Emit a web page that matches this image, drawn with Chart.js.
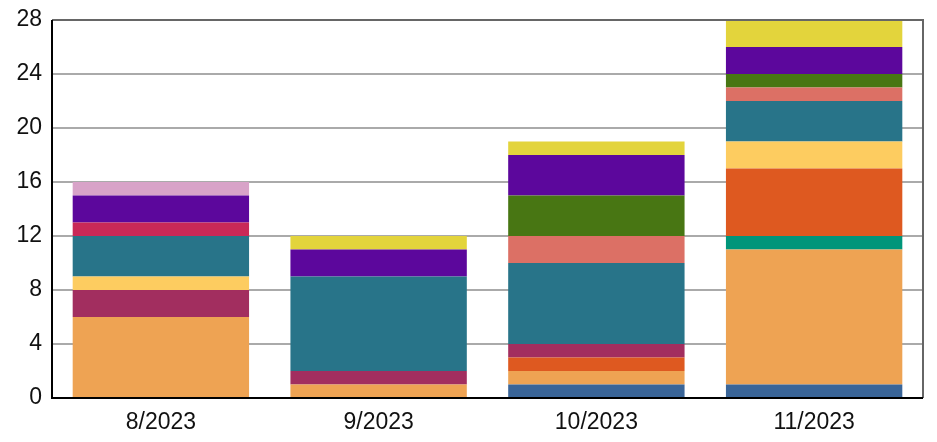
<!DOCTYPE html>
<html>
<head>
<meta charset="utf-8">
<script src="https://cdn.jsdelivr.net/npm/chart.js@4/dist/chart.umd.min.js"></script>
<style>
html,body{margin:0;padding:0;background:#fff;}
#wrap{width:937px;height:442px;position:relative;}
</style>
</head>
<body>
<div id="wrap"><canvas id="c"></canvas></div>
<script>
const categories = ["8/2023", "9/2023", "10/2023", "11/2023"];
const yTicks = [0, 4, 8, 12, 16, 20, 24, 28];

const s01 = [0, 0, 1, 1];
const s02 = [6, 1, 1, 10];
const s03 = [0, 0, 0, 1];
const s04 = [0, 0, 1, 5];
const s05 = [2, 1, 1, 0];
const s06 = [1, 0, 0, 2];
const s07 = [3, 7, 6, 3];
const s08 = [0, 0, 2, 1];
const s09 = [1, 0, 0, 0];
const s10 = [0, 0, 3, 1];
const s11 = [2, 2, 3, 2];
const s12 = [1, 0, 0, 0];
const s13 = [0, 1, 1, 2];

const seriesValues = [s01, s02, s03, s04, s05, s06, s07, s08, s09, s10, s11, s12, s13];
const seriesColors = ["#3a6598", "#eea353", "#00957a", "#de5920", "#a22e5f", "#fdcc60",
  "#287489", "#dc7065", "#c92957", "#487613", "#5c079c", "#d8a3c8", "#e3d43c"];

const frame = {
  id: 'frame',
  afterDraw(chart) {
    const {ctx, chartArea: a} = chart;
    ctx.save();
    ctx.strokeStyle = '#666';
    ctx.lineWidth = 2;
    ctx.beginPath();
    ctx.moveTo(a.left, a.top);
    ctx.lineTo(a.right, a.top);
    ctx.lineTo(a.right, a.bottom);
    ctx.stroke();
    ctx.strokeStyle = '#000';
    ctx.beginPath();
    ctx.moveTo(a.left, a.top);
    ctx.lineTo(a.left, a.bottom);
    ctx.lineTo(a.right, a.bottom);
    ctx.stroke();
    ctx.restore();
  }
};

new Chart(document.getElementById('c'), {
  type: 'bar',
  data: {
    labels: categories,
    datasets: seriesValues.map((v, i) => ({
      label: 'S' + (i + 1),
      data: v,
      backgroundColor: seriesColors[i],
      borderWidth: 0,
      categoryPercentage: 0.9,
      barPercentage: 0.9
    }))
  },
  options: {
    responsive: true,
    maintainAspectRatio: false,
    animation: false,
    layout: {padding: {top: 20, right: 14, left: 0, bottom: 0}},
    plugins: {legend: {display: false}, tooltip: {enabled: false}},
    scales: {
      x: {
        stacked: true,
        grid: {display: false, drawTicks: false},
        border: {display: false},
        ticks: {color: '#111', font: {family: "'Liberation Sans', Arial", size: 23}, padding: 11},
        afterFit(s) { s.height = 44; }
      },
      y: {
        stacked: true,
        min: 0, max: 28,
        afterBuildTicks(s) { s.ticks = yTicks.map(v => ({value: v})); },
        grid: {
          drawTicks: false,
          color: ctx => ctx.tick && ctx.tick.value === 28 ? '#666' : '#aaa',
          lineWidth: 2
        },
        border: {display: false},
        ticks: {color: '#111', font: {family: "'Liberation Sans', Arial", size: 23}, padding: 10},
        afterFit(s) { s.width = 52; s.paddingTop = 0; s.paddingBottom = 0; }
      }
    }
  },
  plugins: [frame]
});
</script>
</body>
</html>
